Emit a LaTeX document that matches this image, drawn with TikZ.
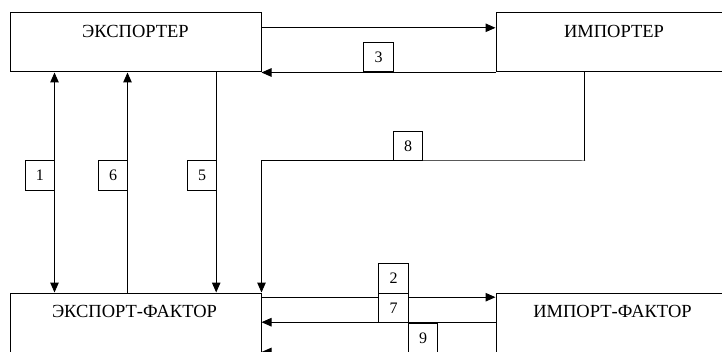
\documentclass[tikz,border=0pt]{standalone}
\usepackage{fontspec}
\setmainfont{Liberation Serif}
\usetikzlibrary{arrows.meta}
\begin{document}
\begin{tikzpicture}[x=1pt,y=1pt, line width=1pt,
  box/.style={draw, line width=1pt, inner sep=0pt},
  num/.style={draw, line width=1pt, inner sep=0pt, fill=white, minimum size=29.5pt, font=\fontsize{16}{16}\selectfont},
  lbl/.style={font=\fontsize{18.5}{18.5}\selectfont, inner sep=0pt, anchor=base},
  arr/.style={-{Triangle[length=10pt,width=8.5pt]}},
  darr/.style={{Triangle[length=10pt,width=8.5pt]}-{Triangle[length=10pt,width=8.5pt]}}]
\useasboundingbox (0,0) rectangle (722,351);
\clip (0,0) rectangle (722,351);
% main boxes
\node[box, minimum width=251pt, minimum height=59pt] (exp) at (135.5,308.5) {};
\node[box, minimum width=236pt, minimum height=59pt] (imp) at (614,308.5) {};
\node[box, minimum width=251pt, minimum height=80pt] (ef) at (135.5,18) {};
\node[box, minimum width=236pt, minimum height=80pt] (if) at (614,18) {};
\node[lbl] (expT) at (135.5,313.7) {ЭКСПОРТЕР};
\node[lbl] (impT) at (614,313.7) {ИМПОРТЕР};
\node[lbl] (efT) at (134.5,34) {ЭКСПОРТ-ФАКТОР};
\node[lbl] (ifT) at (612.5,34) {ИМПОРТ-ФАКТОР};
% top connectors
\draw[arr] ([yshift=-15.3pt]exp.north east) -- ([yshift=-15.3pt]imp.north west);
\draw[arr] (imp.south west) -- (exp.south east);
% verticals
\draw[darr] ([xshift=45pt]exp.south west) -- ([xshift=45pt]ef.north west);
\draw[arr] ([xshift=118pt]ef.north west) -- ([xshift=118pt]exp.south west);
\draw[arr] ([xshift=206.7pt]exp.south west) -- ([xshift=206.7pt]ef.north west);
\coordinate (c8) at (585,190);
\draw[arr] ([xshift=89pt]imp.south west) |- (c8) -| (ef.north east);
% bottom connectors
\draw[arr] ([yshift=-4.7pt]ef.north east) -- ([yshift=-4.7pt]if.north west);
\draw[arr] ([yshift=-29.7pt]if.north west) -- ([yshift=-29.7pt]ef.north east);
\draw[arr] ([yshift=-59.5pt]if.north west) -- ([yshift=-59.5pt]ef.north east);
% number boxes
\node[num] (n1) at (39.75,175.7) {1};
\node[num] (n6) at (113,175.7) {6};
\node[num] (n5) at (202,175.7) {5};
\node[num] (n3) at (378.5,293.75) {3};
\node[num] (n8) at (408.2,204.75) {8};
\node[num] (n2) at (393.5,72.7) {2};
\node[num] (n7) at (393.5,43.2) {7};
\node[num] (n9) at (423,13.2) {9};
\end{tikzpicture}
\end{document}
